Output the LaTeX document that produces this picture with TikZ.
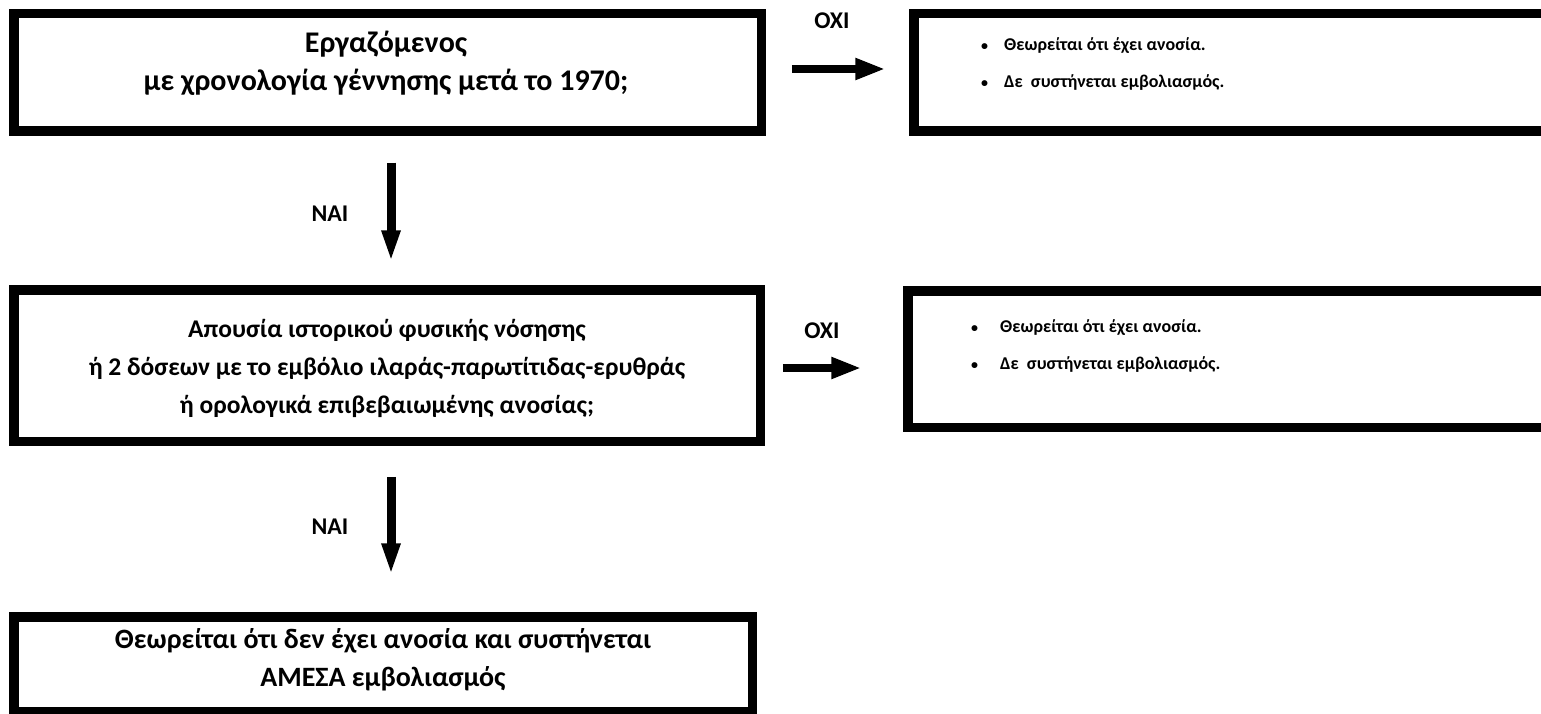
\documentclass[tikz,border=0pt]{standalone}
\usepackage{fontspec}
\setmainfont{Carlito}
\usetikzlibrary{arrows.meta}
\begin{document}
\begin{tikzpicture}[x=1pt,y=-1pt,
  box/.style={draw=black, line width=9.5pt, rectangle, inner sep=0pt},
  txt/.style={font=\fontsize{25.5pt}{38pt}\selectfont\bfseries, align=center, inner sep=0pt},
  bigtxt/.style={txt, font=\fontsize{28pt}{38pt}\selectfont\bfseries},
  toptxt/.style={txt, font=\fontsize{30pt}{38pt}\selectfont\bfseries},
  btxt/.style={font=\fontsize{18pt}{37pt}\selectfont\bfseries, align=left, inner sep=0pt, anchor=west},
  lbl/.style={font=\fontsize{24pt}{28pt}\selectfont\bfseries, inner sep=0pt},
  varrow/.style={line width=9pt, -{Triangle[length=32pt,width=17pt]}},
  harrow/.style={line width=8pt, -{Triangle[length=30pt,width=20pt]}}
]
\useasboundingbox (0,0) rectangle (1541,714);
% boxes
\node[box, minimum width=747.5pt, minimum height=117.5pt] (b1) at (387.5,72.5) {};
\node[box, minimum width=746.5pt, minimum height=151.5pt] (b2) at (387,365.5) {};
\node[box, minimum width=738.5pt, minimum height=94.5pt] (b3) at (383,664) {};
\node[box, minimum width=646pt, minimum height=117.5pt] (r1) at (1236.9,72.5) {};
\node[box, minimum width=652pt, minimum height=136.5pt] (r2) at (1233.9,359) {};
% texts
\node[toptxt] (t1) at (386,63) {Εργαζόμενος\\με χρονολογία γέννησης μετά το 1970;};
\node[txt] (t2) at (387,368) {Απουσία ιστορικού φυσικής νόσησης\\ή 2 δόσεων με το εμβόλιο ιλαράς-παρωτίτιδας-ερυθράς\\ή ορολογικά επιβεβαιωμένης ανοσίας;};
\node[bigtxt] (t3) at (383,660) {Θεωρείται ότι δεν έχει ανοσία και συστήνεται\\ΑΜΕΣΑ εμβολιασμός};
\node[btxt] (rt1) at (981,64.5) {\makebox[23pt][l]{\fontsize{14pt}{14pt}\selectfont•}Θεωρείται ότι έχει ανοσία.\\\makebox[23pt][l]{\fontsize{14pt}{14pt}\selectfont•}Δε~~συστήνεται εμβολιασμός.};
\node[btxt] (rt2) at (971,346.5) {\makebox[29pt][l]{\fontsize{14pt}{14pt}\selectfont•}Θεωρείται ότι έχει ανοσία.\\\makebox[29pt][l]{\fontsize{14pt}{14pt}\selectfont•}Δε~~συστήνεται εμβολιασμός.};
% labels
\node[lbl] (no1) at (832,21) {ΟΧΙ};
\node[lbl] (no2) at (822,331) {ΟΧΙ};
\node[lbl] (yes1) at (330,214) {ΝΑΙ};
\node[lbl] (yes2) at (330,527) {ΝΑΙ};
% arrows
\draw[varrow, shorten <=26.75pt, shorten >=22.75pt] ([xshift=3.5pt]b1.south) -- ([xshift=3.5pt]b1.south |- b2.north);
\draw[varrow, shorten <=30.75pt, shorten >=36.75pt] ([xshift=4pt]b2.south) -- ([xshift=4pt]b2.south |- b3.north);
\draw[harrow, shorten <=25.75pt, shorten >=23.75pt] ([yshift=3.5pt]b1.east) -- ([yshift=3.5pt]b1.east -| r1.west);
\draw[harrow, shorten <=17.75pt, shorten >=41.75pt] ([yshift=-2.5pt]b2.east) -- ([yshift=-2.5pt]b2.east -| r2.west);
\end{tikzpicture}
\end{document}
